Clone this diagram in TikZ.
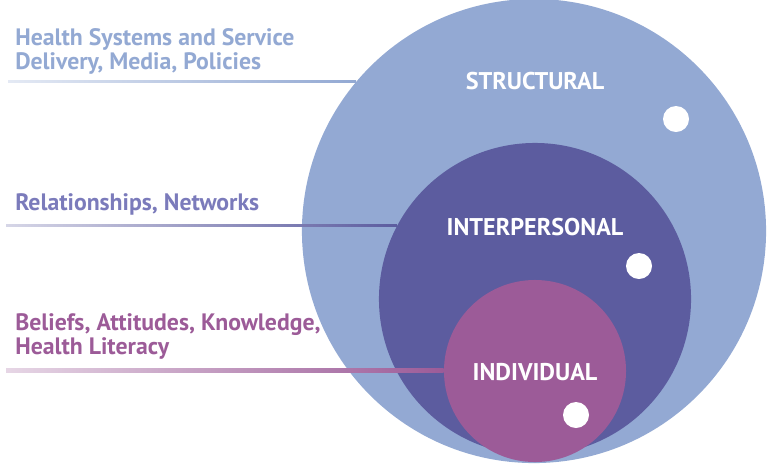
\documentclass[tikz,border=0pt]{standalone}
\usepackage{fontspec}
\setsansfont{PT Sans}
\usepackage{tikz}
\usetikzlibrary{calc}
\definecolor{HL-struct}{HTML}{93A9D3}
\definecolor{HL-inter}{HTML}{5C5C9F}
\definecolor{HL-intertekst}{HTML}{7B7BBB}
\definecolor{HL-indiv}{HTML}{9C5B98}

\tikzset{
  lag/.style={circle,inner sep=0,fill=#1},
  prik/.style={circle,inner sep=0,fill=white,minimum size=0.65cm},
  lagnavn/.style={text=white,font=\fontsize{17.2}{20}\selectfont},
  forklaring/.style={anchor=north west,inner sep=0,align=left,text=#1,font=\fontsize{16.9}{17.1}\selectfont},
  streg/.style={left color=#1!25,middle color=#1!85,right color=#1,draw=none}
}

\begin{document}
\begin{tikzpicture}[x=0.025cm,y=-0.025cm] \sffamily\bfseries
\useasboundingbox (0,0) rectangle (770,463);

\node[lag=HL-struct,minimum size=11.6cm] (structural) at (534,231) {};
\node[lag=HL-inter,minimum size=7.8cm] (interpersonal) at (535,299) {};
\node[lag=HL-indiv,minimum size=4.55cm] (individual) at (535,371) {};

\node[lagnavn] (structnavn) at (535,81) {STRUCTURAL};
\node[lagnavn] (internavn) at (535,227) {INTERPERSONAL};
\node[lagnavn] (indivnavn) at (535,372) {INDIVIDUAL};

\node[prik] (prik1) at (676,119) {};
\node[prik] (prik2) at (639,266) {};
\node[prik] (prik3) at (576,415) {};

\node[forklaring=HL-struct] (systemer) at (15,28) {Health Systems and Service \\ Delivery, Media, Policies};
\node[forklaring=HL-intertekst] (relationer) at (15,193) {Relationships, Networks};
\node[forklaring=HL-indiv] (holdninger) at (15,313) {Beliefs, Attitudes, Knowledge, \\ Health Literacy};

\coordinate (streg1) at (8,82);
\coordinate (streg2) at (6,226);
\coordinate (streg3) at (6,370);

\shade[streg=HL-struct] ($(streg1)+(0,-1.2)$) rectangle ($(structural.140)+(0,1.2)$);
\shade[streg=HL-inter] ($(streg2)+(0,-1.2)$) rectangle ($(interpersonal.152)+(0,1.2)$);
\shade[streg=HL-indiv] ($(streg3)+(0,-1.2)$) rectangle ($(individual.180)+(0,1.2)$);

\end{tikzpicture}
\end{document}
